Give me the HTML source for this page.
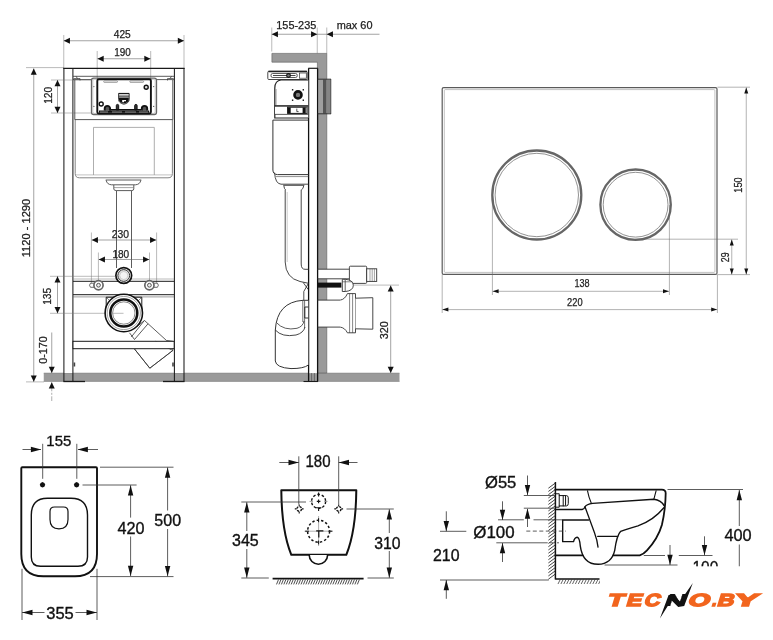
<!DOCTYPE html>
<html lang="en">
<head>
<meta charset="utf-8">
<title>Installation frame and wall-hung toilet – dimension drawing</title>
<style>
html,body{margin:0;padding:0;background:#fff;}
body{width:773px;height:640px;overflow:hidden;}
svg{display:block;}
svg text{font-family:"Liberation Sans",sans-serif;}
#all{opacity:0.999;}
</style>
</head>
<body>
<svg width="773" height="640" viewBox="0 0 773 640">
<defs><clipPath id="crop"><rect x="400" y="440" width="373" height="126.2"/><rect x="400" y="566" width="200" height="74"/></clipPath></defs>
<rect x="0" y="0" width="773" height="640" fill="#fff"/>
<g id="all">
<g id="frame-front">
<rect x="43.75" y="373" width="355.75" height="8.6" fill="#9a9a9a" stroke="none" stroke-width="1" rx="0" />
<line x1="43.75" y1="373.1" x2="399.5" y2="373.1" stroke="#858585" stroke-width="0.6" />
<line x1="43.75" y1="381.4" x2="399.5" y2="381.4" stroke="#858585" stroke-width="0.6" />
<line x1="63.75" y1="35" x2="63.75" y2="68" stroke="#777" stroke-width="0.5" />
<line x1="184" y1="35" x2="184" y2="68" stroke="#777" stroke-width="0.5" />
<line x1="63.75" y1="40.75" x2="184" y2="40.75" stroke="#666" stroke-width="0.6" />
<polygon points="63.75,40.75 69.95,37.65 69.95,43.85" fill="#111"/>
<polygon points="184.00,40.75 177.80,37.65 177.80,43.85" fill="#111"/>
<text x="122.25" y="38.3" font-size="10.5" text-anchor="middle" fill="#222" font-weight="normal" textLength="17" lengthAdjust="spacingAndGlyphs" stroke="#222" stroke-width="0.25" >425</text>
<line x1="97.2" y1="51" x2="97.2" y2="80" stroke="#777" stroke-width="0.5" />
<line x1="150.7" y1="51" x2="150.7" y2="80" stroke="#777" stroke-width="0.5" />
<line x1="97.5" y1="58.75" x2="150.5" y2="58.75" stroke="#666" stroke-width="0.6" />
<polygon points="97.50,58.75 103.70,55.65 103.70,61.85" fill="#111"/>
<polygon points="150.50,58.75 144.30,55.65 144.30,61.85" fill="#111"/>
<text x="122.5" y="56.4" font-size="10.5" text-anchor="middle" fill="#222" font-weight="normal" textLength="16.6" lengthAdjust="spacingAndGlyphs" stroke="#222" stroke-width="0.25" >190</text>
<line x1="26" y1="67.6" x2="64" y2="67.6" stroke="#777" stroke-width="0.5" />
<line x1="26" y1="381.9" x2="44" y2="381.9" stroke="#777" stroke-width="0.5" />
<line x1="33.75" y1="68.5" x2="33.75" y2="381.75" stroke="#666" stroke-width="0.6" />
<polygon points="33.75,68.50 30.75,74.70 36.75,74.70" fill="#111"/>
<polygon points="33.75,381.75 30.75,375.55 36.75,375.55" fill="#111"/>
<text x="29.6" y="228" font-size="10.5" text-anchor="middle" fill="#222" font-weight="normal" textLength="58.5" lengthAdjust="spacingAndGlyphs" stroke="#222" stroke-width="0.25" transform="rotate(-90 29.6 228)" >1120 - 1290</text>
<rect x="63.9" y="68" width="9.1" height="305" fill="#fff" stroke="none" stroke-width="1" rx="0" />
<rect x="174.2" y="68" width="9.7" height="305" fill="#fff" stroke="none" stroke-width="1" rx="0" />
<line x1="63.9" y1="68" x2="63.9" y2="381.6" stroke="#1a1a1a" stroke-width="1.05" />
<line x1="72.9" y1="68" x2="72.9" y2="381.6" stroke="#1a1a1a" stroke-width="1.05" />
<line x1="174.4" y1="68" x2="174.4" y2="381.6" stroke="#1a1a1a" stroke-width="1.05" />
<line x1="184.0" y1="68" x2="184.0" y2="381.6" stroke="#1a1a1a" stroke-width="1.05" />
<line x1="63.3" y1="68.4" x2="184.6" y2="68.4" stroke="#1a1a1a" stroke-width="1.4" />
<line x1="63.4" y1="381.5" x2="85" y2="381.5" stroke="#1a1a1a" stroke-width="1.3" />
<line x1="163" y1="381.5" x2="184.5" y2="381.5" stroke="#1a1a1a" stroke-width="1.3" />
<line x1="51" y1="80" x2="92" y2="80" stroke="#777" stroke-width="0.5" />
<line x1="51" y1="113" x2="92" y2="113" stroke="#777" stroke-width="0.5" />
<line x1="57.5" y1="80" x2="57.5" y2="113" stroke="#666" stroke-width="0.6" />
<polygon points="57.50,80.00 54.50,86.20 60.50,86.20" fill="#111"/>
<polygon points="57.50,113.00 54.50,106.80 60.50,106.80" fill="#111"/>
<text x="51.8" y="95.3" font-size="10.5" text-anchor="middle" fill="#222" font-weight="normal" textLength="17" lengthAdjust="spacingAndGlyphs" stroke="#222" stroke-width="0.25" transform="rotate(-90 51.8 95.3)" >120</text>
<path d="M73 76.3 H174.2 M73 79.6 H91 M156.5 79.6 H174.2 M76 76.3 l1.5 2.2 M171.5 76.3 l-1.5 2.2" fill="none" stroke="#333" stroke-width="0.8" />
<path d="M73.5 78.5 H80 V80.5 M173.7 78.5 H167.5 V80.5" fill="none" stroke="#333" stroke-width="0.7" />
<path d="M75.2 119.6 V173.5 Q75.2 177.8 79.5 177.8 H168 Q172.4 177.8 172.4 173.5 V119.6" fill="#fff" stroke="#777" stroke-width="0.9" />
<path d="M75.6 174.9 H172" fill="none" stroke="#999" stroke-width="0.6" />
<path d="M74.8 80 V119.6 H172.8 V80" fill="none" stroke="#444" stroke-width="0.9" />
<path d="M93.5 175 V127.4 H154.3 V175" fill="none" stroke="#999" stroke-width="0.8" />
<rect x="91.5" y="78.2" width="65" height="36.3" fill="#fff" stroke="#666" stroke-width="1.3" rx="2.2" />
<rect x="92.8" y="79.4" width="62.4" height="34" fill="none" stroke="#999" stroke-width="0.5" rx="1.5" />
<rect x="97.3" y="79.2" width="53.6" height="34.3" fill="#fff" stroke="#111" stroke-width="1.9" rx="1.5" />
<rect x="103.7" y="80.9" width="13.8" height="1.5" fill="#fff" stroke="#666" stroke-width="0.6" rx="0.7" />
<rect x="129.8" y="80.9" width="13.8" height="1.5" fill="#fff" stroke="#666" stroke-width="0.6" rx="0.7" />
<circle cx="93.9" cy="86.6" r="0.55" fill="#444" stroke="none" stroke-width="1" />
<circle cx="93.9" cy="106.4" r="0.55" fill="#444" stroke="none" stroke-width="1" />
<circle cx="153.7" cy="86.6" r="0.55" fill="#444" stroke="none" stroke-width="1" />
<circle cx="153.7" cy="106.4" r="0.55" fill="#444" stroke="none" stroke-width="1" />
<circle cx="146.2" cy="87.2" r="2.0" fill="#ddd" stroke="#111" stroke-width="1.4" />
<circle cx="101.2" cy="104" r="2.0" fill="#fff" stroke="#111" stroke-width="1.4" />
<path d="M104.7 110.6 V108.6 A2.7 2.7 0 0 1 110.10000000000001 108.6 V110.6" fill="#555" stroke="#111" stroke-width="1.9" />
<path d="M141.8 110.6 V108.6 A2.7 2.7 0 0 1 147.2 108.6 V110.6" fill="#555" stroke="#111" stroke-width="1.9" />
<path d="M116.3 110 V105.6 A1.2 1.2 0 0 1 118.7 105.6 V110 Z" fill="#333" stroke="#111" stroke-width="1.0" />
<path d="M134.70000000000002 110 V105.6 A1.2 1.2 0 0 1 137.1 105.6 V110 Z" fill="#333" stroke="#111" stroke-width="1.0" />
<line x1="99" y1="111.6" x2="149.2" y2="111.6" stroke="#111" stroke-width="2.2" />
<line x1="109.6" y1="109.8" x2="141" y2="109.8" stroke="#111" stroke-width="1.6" />
<path d="M100 112 H108 M112 112 H122 M125 112 H136 M139 112 H148" fill="none" stroke="#bbb" stroke-width="0.7" />
<path d="M118.6 93.4 H129.2 V99.5 Q129 103.2 123.9 104.2 Q118.8 103.2 118.6 99.5 Z" fill="#fff" stroke="#222" stroke-width="0.9" />
<line x1="118.8" y1="93.7" x2="129" y2="93.7" stroke="#111" stroke-width="1.0" />
<line x1="118.8" y1="96.1" x2="129" y2="96.1" stroke="#111" stroke-width="1.0" />
<path d="M119 97.4 H128.8 V100 Q128.3 102.6 123.9 103.4 Q119.5 102.6 119 100 Z" fill="#111" stroke="none" stroke-width="1" />
<path d="M122.2 100 H126 V101.3 H124 V102.2 H122.2 Z" fill="#fff" stroke="none" stroke-width="1" />
<path d="M105.7 180 H141.3 M106.2 180.2 Q106.8 184.4 111.5 184.8 H135.5 Q140.2 184.4 140.8 180.2" fill="none" stroke="#4a4a4a" stroke-width="0.9" />
<path d="M113.8 185 V189 Q113.8 190.6 116.5 190.6 H131.5 Q133.8 190.6 133.8 189 V185" fill="none" stroke="#4a4a4a" stroke-width="0.9" />
<line x1="116.5" y1="190.6" x2="116.5" y2="268" stroke="#4a4a4a" stroke-width="0.9" />
<line x1="131.5" y1="190.6" x2="131.5" y2="268" stroke="#4a4a4a" stroke-width="0.9" />
<line x1="114" y1="187.6" x2="133.6" y2="187.6" stroke="#666" stroke-width="0.6" />
<line x1="91.4" y1="232.5" x2="91.4" y2="285" stroke="#777" stroke-width="0.5" />
<line x1="156.6" y1="232.5" x2="156.6" y2="285" stroke="#777" stroke-width="0.5" />
<line x1="91.75" y1="240" x2="156.25" y2="240" stroke="#666" stroke-width="0.6" />
<polygon points="91.75,240.00 97.95,236.90 97.95,243.10" fill="#111"/>
<polygon points="156.25,240.00 150.05,236.90 150.05,243.10" fill="#111"/>
<text x="120.5" y="237.6" font-size="10.5" text-anchor="middle" fill="#222" font-weight="normal" textLength="17.3" lengthAdjust="spacingAndGlyphs" stroke="#222" stroke-width="0.25" >230</text>
<line x1="98.4" y1="252.5" x2="98.4" y2="282" stroke="#777" stroke-width="0.5" />
<line x1="149.5" y1="252.5" x2="149.5" y2="282" stroke="#777" stroke-width="0.5" />
<line x1="98.75" y1="259.5" x2="149.25" y2="259.5" stroke="#666" stroke-width="0.6" />
<polygon points="98.75,259.50 104.95,256.40 104.95,262.60" fill="#111"/>
<polygon points="149.25,259.50 143.05,256.40 143.05,262.60" fill="#111"/>
<text x="120.8" y="257.5" font-size="10.5" text-anchor="middle" fill="#222" font-weight="normal" textLength="16.8" lengthAdjust="spacingAndGlyphs" stroke="#222" stroke-width="0.25" >180</text>
<line x1="73" y1="279" x2="174.2" y2="279" stroke="#777" stroke-width="0.5" />
<line x1="73" y1="281.3" x2="174.2" y2="281.3" stroke="#1a1a1a" stroke-width="1.0" />
<line x1="73" y1="294.7" x2="174.2" y2="294.7" stroke="#1a1a1a" stroke-width="1.0" />
<line x1="73" y1="296.9" x2="174.2" y2="296.9" stroke="#555" stroke-width="0.6" />
<circle cx="123.75" cy="275.5" r="7.9" fill="#fff" stroke="#111" stroke-width="1.7" />
<circle cx="123.75" cy="275.5" r="5.9" fill="#e4e4e4" stroke="#333" stroke-width="1.0" />
<circle cx="123.75" cy="275.5" r="4.0" fill="#f4f4f4" stroke="#aaa" stroke-width="0.5" />
<path d="M94.5 283.2 H90.5 Q88.5 285.2 90.5 287.3 H94.5" fill="#fff" stroke="#444" stroke-width="0.8" />
<circle cx="98.5" cy="285.25" r="4.6" fill="#fff" stroke="#666" stroke-width="1.7" />
<circle cx="98.5" cy="285.25" r="1.9" fill="#eee" stroke="#444" stroke-width="0.9" />
<path d="M153.4 283.2 H157.4 Q159.4 285.2 157.4 287.3 H153.4" fill="#fff" stroke="#444" stroke-width="0.8" />
<circle cx="149.4" cy="285.25" r="4.6" fill="#fff" stroke="#666" stroke-width="1.7" />
<circle cx="149.4" cy="285.25" r="1.9" fill="#eee" stroke="#444" stroke-width="0.9" />
<line x1="50" y1="276.3" x2="115.5" y2="276.3" stroke="#777" stroke-width="0.5" />
<line x1="50" y1="313.3" x2="123.5" y2="313.3" stroke="#777" stroke-width="0.5" />
<line x1="57.5" y1="276.3" x2="57.5" y2="313.3" stroke="#666" stroke-width="0.6" />
<polygon points="57.50,276.30 54.50,282.50 60.50,282.50" fill="#111"/>
<polygon points="57.50,313.30 54.50,307.10 60.50,307.10" fill="#111"/>
<text x="51.3" y="296.3" font-size="10.5" text-anchor="middle" fill="#222" font-weight="normal" textLength="17" lengthAdjust="spacingAndGlyphs" stroke="#222" stroke-width="0.25" transform="rotate(-90 51.3 296.3)" >135</text>
<path d="M106.2 313 V297.2 H141.8 V313" fill="none" stroke="#1a1a1a" stroke-width="1.0" />
<path d="M106.2 297.2 l4 4 M141.8 297.2 l-4 4" fill="none" stroke="#333" stroke-width="0.6" />
<path d="M137 326.5 L144.5 320.5 L166.5 340.5 L172.8 341.3 V350.5 L149.8 368.2 L134.5 349 M129.5 332.8 L134.5 339.5 L148 323.8 M144.3 320.6 L131.3 337 M172.8 350.5 L155.5 341.3" fill="none" stroke="#333" stroke-width="0.8" />
<circle cx="123.8" cy="313.0" r="18.7" fill="#fff" stroke="#111" stroke-width="1.6" />
<circle cx="123.8" cy="313.0" r="16.6" fill="none" stroke="#666" stroke-width="0.6" />
<circle cx="123.8" cy="313.0" r="13.5" fill="#fff" stroke="#111" stroke-width="2.5" />
<circle cx="123.8" cy="313.0" r="11.2" fill="none" stroke="#555" stroke-width="0.7" />
<line x1="113" y1="313.3" x2="123.5" y2="313.3" stroke="#777" stroke-width="0.5" />
<rect x="73" y="341.3" width="101.2" height="7.4" fill="#fff" stroke="#1a1a1a" stroke-width="1.0" rx="0" />
<path d="M134.5 349 L149.8 368.2 L172.8 350.5" fill="none" stroke="#333" stroke-width="0.8" />
<rect x="73.6" y="362.5" width="1.6" height="4" fill="#444" stroke="none" stroke-width="1" rx="0" />
<rect x="172.2" y="362.5" width="1.6" height="4" fill="#444" stroke="none" stroke-width="1" rx="0" />
<line x1="51.75" y1="332.5" x2="51.75" y2="373" stroke="#666" stroke-width="0.6" />
<polygon points="51.75,373.00 48.75,366.80 54.75,366.80" fill="#111"/>
<line x1="51.75" y1="382.3" x2="51.75" y2="401" stroke="#777" stroke-width="0.6" stroke-dasharray="9 1.5 2 1.5"/>
<polygon points="51.75,382.30 48.75,388.50 54.75,388.50" fill="#111"/>
<text x="47.4" y="350" font-size="10.5" text-anchor="middle" fill="#222" font-weight="normal" textLength="27.5" lengthAdjust="spacingAndGlyphs" stroke="#222" stroke-width="0.25" transform="rotate(-90 47.4 350)" >0-170</text>
</g>
<g id="frame-side">
<line x1="271.75" y1="27.5" x2="271.75" y2="51.5" stroke="#777" stroke-width="0.5" />
<line x1="317.25" y1="27.5" x2="317.25" y2="53.5" stroke="#777" stroke-width="0.5" />
<line x1="326.75" y1="27.5" x2="326.75" y2="53.5" stroke="#777" stroke-width="0.5" />
<line x1="271.75" y1="34.25" x2="326.75" y2="34.25" stroke="#666" stroke-width="0.6" />
<line x1="326.75" y1="34.25" x2="379.5" y2="34.25" stroke="#666" stroke-width="0.6" />
<polygon points="271.75,34.25 277.95,31.15 277.95,37.35" fill="#111"/>
<polygon points="317.25,34.25 311.05,31.15 311.05,37.35" fill="#111"/>
<polygon points="326.75,34.25 332.95,31.15 332.95,37.35" fill="#111"/>
<text x="296.3" y="28.9" font-size="10.5" text-anchor="middle" fill="#222" font-weight="normal" textLength="40" lengthAdjust="spacingAndGlyphs" stroke="#222" stroke-width="0.25" >155-235</text>
<text x="354.6" y="28.9" font-size="10.5" text-anchor="middle" fill="#222" font-weight="normal" textLength="35.8" lengthAdjust="spacingAndGlyphs" stroke="#222" stroke-width="0.25" >max 60</text>
<path d="M271.9 53.4 H326.8 V373 H317.4 V62.2 H271.9 Z" fill="#9a9a9a" stroke="#5a5a5a" stroke-width="0.6" />
<rect x="317.4" y="269.2" width="32" height="9.6" fill="#fff" stroke="none" stroke-width="1" rx="0" />
<rect x="317.4" y="300.1" width="23.2" height="27" fill="#fff" stroke="none" stroke-width="1" rx="0" />
<rect x="308.7" y="68.2" width="8.7" height="305" fill="#fff" stroke="none" stroke-width="1" rx="0" />
<line x1="308.6" y1="68.2" x2="308.6" y2="381.6" stroke="#111" stroke-width="1.3" />
<line x1="317.6" y1="68.2" x2="317.6" y2="381.6" stroke="#111" stroke-width="1.3" />
<line x1="308.3" y1="68.3" x2="317.9" y2="68.3" stroke="#1a1a1a" stroke-width="1.2" />
<line x1="311.6" y1="373" x2="311.6" y2="381.6" stroke="#444" stroke-width="0.6" />
<line x1="314.4" y1="373" x2="314.4" y2="381.6" stroke="#444" stroke-width="0.6" />
<line x1="303.5" y1="381.5" x2="318" y2="381.5" stroke="#1a1a1a" stroke-width="1.1" />
<rect x="318.4" y="79.5" width="4.6" height="34" fill="#9f9f9f" stroke="none" stroke-width="1" rx="0" />
<rect x="323" y="79.5" width="3.4" height="34" fill="#555" stroke="none" stroke-width="1" rx="0" />
<rect x="326.4" y="79.5" width="4.4" height="34" fill="#858585" stroke="none" stroke-width="1" rx="0" />
<line x1="330.8" y1="79" x2="330.8" y2="114" stroke="#333" stroke-width="0.8" />
<line x1="317.6" y1="79.2" x2="331" y2="79.2" stroke="#333" stroke-width="1.0" />
<line x1="317.6" y1="113.8" x2="331" y2="113.8" stroke="#333" stroke-width="1.0" />
<rect x="267.8" y="71.3" width="39.4" height="8.2" fill="#fff" stroke="#333" stroke-width="0.9" rx="1" />
<line x1="268.5" y1="71.5" x2="307" y2="71.5" stroke="#222" stroke-width="1.4" />
<rect x="271" y="73.5" width="26.2" height="4" fill="#fff" stroke="#333" stroke-width="0.8" rx="1.6" />
<line x1="273" y1="75.5" x2="295.5" y2="75.5" stroke="#333" stroke-width="0.9" />
<circle cx="288.5" cy="75.5" r="1.9" fill="#777" stroke="#111" stroke-width="1.1" />
<rect x="299.5" y="73" width="6.8" height="5.2" fill="#fff" stroke="#333" stroke-width="0.7" rx="0" />
<path d="M308.3 80 H281 Q275 80.5 274.8 88 V118 H308.3" fill="#fff" stroke="#222" stroke-width="1.2" />
<line x1="276.2" y1="89" x2="276.2" y2="105" stroke="#666" stroke-width="0.5" />
<rect x="291.90000000000003" y="89.1" width="1.4" height="1.4" fill="#111" stroke="none" stroke-width="1" rx="0" />
<rect x="302.6" y="89.1" width="1.4" height="1.4" fill="#111" stroke="none" stroke-width="1" rx="0" />
<rect x="291.90000000000003" y="99.5" width="1.4" height="1.4" fill="#111" stroke="none" stroke-width="1" rx="0" />
<rect x="302.6" y="99.5" width="1.4" height="1.4" fill="#111" stroke="none" stroke-width="1" rx="0" />
<circle cx="298.0" cy="94.9" r="3.5" fill="#777" stroke="#111" stroke-width="2.6" />
<line x1="274.5" y1="105.6" x2="308.3" y2="105.6" stroke="#222" stroke-width="0.9" />
<rect x="274.6" y="106.3" width="33.5" height="8" fill="#fff" stroke="#333" stroke-width="0.8" rx="0" />
<rect x="287.6" y="107.2" width="19.4" height="6.2" fill="#fff" stroke="#111" stroke-width="1.0" rx="0" />
<rect x="287.9" y="107.5" width="2.8" height="5.6" fill="#111" stroke="none" stroke-width="1" rx="0" />
<rect x="302.6" y="107.5" width="3.2" height="5.6" fill="#111" stroke="none" stroke-width="1" rx="0" />
<rect x="305.8" y="107.5" width="1.6" height="5.6" fill="#888" stroke="none" stroke-width="1" rx="0" />
<path d="M296.8 108.6 V111.6 H298.6" fill="none" stroke="#111" stroke-width="0.7" />
<path d="M272.9 120.1 H308.6 M272.9 120.1 V170 Q273 174.4 277.5 174.6 H308.6" fill="none" stroke="#333" stroke-width="1.0" />
<path d="M274.6 172.6 Q275.2 183.8 281 184.2 H308.6" fill="none" stroke="#333" stroke-width="0.9" />
<line x1="276" y1="176.6" x2="308.6" y2="176.6" stroke="#444" stroke-width="0.6" />
<path d="M283.4 185.3 H304.2 M283.8 185.5 Q284.2 189.2 285.6 189.8 M303.8 185.5 Q303.2 189.2 301.4 189.8" fill="none" stroke="#333" stroke-width="0.9" />
<path d="M285.2 189.8 V262 Q285.6 278 300 281.5 L308.6 283.3" fill="none" stroke="#333" stroke-width="0.9" />
<path d="M301.2 189.8 V264 Q301.2 269.3 305 269.3 H308.6" fill="none" stroke="#333" stroke-width="0.9" />
<line x1="287.2" y1="192" x2="287.2" y2="262" stroke="#999" stroke-width="0.5" />
<path d="M303.2 282.5 l5 7 M308.3 283.5 l-4.5 8 V305" fill="none" stroke="#222" stroke-width="0.8" />
<path d="M317.4 269.2 H349.4 M317.4 278.8 H349.4" fill="none" stroke="#333" stroke-width="0.9" />
<rect x="349.4" y="266.2" width="17.3" height="17.2" fill="#fff" stroke="#333" stroke-width="0.9" rx="1" />
<rect x="366.7" y="268.8" width="10" height="12.6" fill="#fff" stroke="#333" stroke-width="0.9" rx="0" />
<line x1="370" y1="268.8" x2="370" y2="281.4" stroke="#444" stroke-width="0.5" />
<line x1="372.2" y1="268.8" x2="372.2" y2="281.4" stroke="#444" stroke-width="0.5" />
<line x1="374.4" y1="268.8" x2="374.4" y2="281.4" stroke="#444" stroke-width="0.5" />
<rect x="317.6" y="282.6" width="23.8" height="5.0" fill="#111" stroke="none" stroke-width="1" rx="0" />
<path d="M342.3 279.3 H345.5 Q353 280 353.4 285.3 Q353 290.8 345.5 291.5 H342.3 Z" fill="#fff" stroke="#333" stroke-width="0.9" />
<line x1="345.2" y1="279.3" x2="345.2" y2="291.5" stroke="#222" stroke-width="0.7" />
<line x1="342.3" y1="281.8" x2="352.4" y2="281.8" stroke="#333" stroke-width="0.6" />
<path d="M317.4 300.1 H340.3 M317.4 327.1 H340.3" fill="none" stroke="#333" stroke-width="0.9" />
<path d="M340.3 300.1 Q345 299.3 347.4 293.6 H355.5 V332.8 H347.4 Q345 327.9 340.3 327.1" fill="#fff" stroke="#333" stroke-width="0.9" />
<line x1="349.6" y1="293.6" x2="349.6" y2="332.8" stroke="#333" stroke-width="0.6" />
<line x1="352.6" y1="293.6" x2="352.6" y2="332.8" stroke="#333" stroke-width="0.6" />
<path d="M355.5 298.2 L372.8 297.7 V329.2 L355.5 328.8" fill="#fff" stroke="#333" stroke-width="0.9" />
<path d="M308.3 300.3 H303 Q277 302 275.3 330 V361 Q276 367.6 291 368.6 Q304 368.6 308.3 365" fill="#fff" stroke="#333" stroke-width="1.0" />
<path d="M275.3 330 Q282 337.5 296 335 Q303.5 333 305 327" fill="none" stroke="#333" stroke-width="0.9" />
<path d="M276.3 322.5 Q284 331 297 328.3 Q303 326.5 304 321" fill="none" stroke="#333" stroke-width="0.8" />
<path d="M302.8 300.5 V322 M304.6 300.5 V328" fill="none" stroke="#333" stroke-width="0.7" />
<path d="M304.8 307 H308.3 M304.8 318 H308.3 M304.8 307 V318" fill="none" stroke="#222" stroke-width="0.9" />
<line x1="352.5" y1="285.1" x2="399" y2="285.1" stroke="#777" stroke-width="0.5" />
<line x1="390.7" y1="285.4" x2="390.7" y2="373" stroke="#666" stroke-width="0.6" />
<polygon points="390.70,285.40 387.70,291.60 393.70,291.60" fill="#111"/>
<polygon points="390.70,373.00 387.70,366.80 393.70,366.80" fill="#111"/>
<text x="387.6" y="330.2" font-size="10.5" text-anchor="middle" fill="#222" font-weight="normal" textLength="18" lengthAdjust="spacingAndGlyphs" stroke="#222" stroke-width="0.25" transform="rotate(-90 387.6 330.2)" >320</text>
</g>
<g id="plate">
<rect x="442.2" y="87.6" width="274.8" height="186.8" fill="none" stroke="#5a5a5a" stroke-width="1.2" rx="1.5" />
<rect x="444.3" y="89.6" width="270.6" height="182.8" fill="none" stroke="#999" stroke-width="0.6" rx="1" />
<circle cx="536.8" cy="195" r="44.5" fill="none" stroke="#666" stroke-width="2.3" />
<circle cx="536.8" cy="195" r="41.7" fill="none" stroke="#777" stroke-width="0.8" />
<circle cx="635.6" cy="204.7" r="35.199999999999996" fill="none" stroke="#666" stroke-width="2.3" />
<circle cx="635.6" cy="204.7" r="32.4" fill="none" stroke="#777" stroke-width="0.8" />
<line x1="492.4" y1="195" x2="492.4" y2="295" stroke="#666" stroke-width="0.5" />
<line x1="669.4" y1="205" x2="669.4" y2="295" stroke="#666" stroke-width="0.5" />
<line x1="492.6" y1="291.3" x2="669" y2="291.3" stroke="#666" stroke-width="0.5" />
<polygon points="492.60,291.30 498.60,289.30 498.60,293.30" fill="#111"/>
<polygon points="669.00,291.30 663.00,289.30 663.00,293.30" fill="#111"/>
<text x="582" y="287.4" font-size="10.3" text-anchor="middle" fill="#222" font-weight="normal" textLength="15.1" lengthAdjust="spacingAndGlyphs" stroke="#222" stroke-width="0.25" >138</text>
<line x1="442.2" y1="274.5" x2="442.2" y2="313" stroke="#666" stroke-width="0.5" />
<line x1="717.4" y1="274.5" x2="717.4" y2="313" stroke="#666" stroke-width="0.5" />
<line x1="442.4" y1="309.6" x2="717.2" y2="309.6" stroke="#666" stroke-width="0.5" />
<polygon points="442.40,309.60 448.40,307.60 448.40,311.60" fill="#111"/>
<polygon points="717.20,309.60 711.20,307.60 711.20,311.60" fill="#111"/>
<text x="574.8" y="306.4" font-size="10.3" text-anchor="middle" fill="#222" font-weight="normal" textLength="15.5" lengthAdjust="spacingAndGlyphs" stroke="#222" stroke-width="0.25" >220</text>
<line x1="717.5" y1="87.2" x2="750" y2="87.2" stroke="#666" stroke-width="0.5" />
<line x1="717.5" y1="274.6" x2="750" y2="274.6" stroke="#666" stroke-width="0.5" />
<line x1="746.25" y1="87.6" x2="746.25" y2="274.4" stroke="#666" stroke-width="0.5" />
<polygon points="746.25,87.60 744.25,93.60 748.25,93.60" fill="#111"/>
<polygon points="746.25,274.40 744.25,268.40 748.25,268.40" fill="#111"/>
<text x="742.4" y="185" font-size="10.3" text-anchor="middle" fill="#222" font-weight="normal" textLength="15.3" lengthAdjust="spacingAndGlyphs" stroke="#222" stroke-width="0.25" transform="rotate(-90 742.4 185)" >150</text>
<line x1="635" y1="239.2" x2="738" y2="239.2" stroke="#666" stroke-width="0.5" />
<line x1="731.75" y1="239.6" x2="731.75" y2="274.4" stroke="#666" stroke-width="0.5" />
<polygon points="731.75,239.60 729.75,245.60 733.75,245.60" fill="#111"/>
<polygon points="731.75,274.40 729.75,268.40 733.75,268.40" fill="#111"/>
<text x="728.8" y="257.3" font-size="10.3" text-anchor="middle" fill="#222" font-weight="normal" textLength="9.8" lengthAdjust="spacingAndGlyphs" stroke="#222" stroke-width="0.25" transform="rotate(-90 728.8 257.3)" >29</text>
</g>
<g id="wc-top">
<path d="M22.3 467.3 H96 Q97 467.3 97 468.3 V554 Q97 576.3 75 576.3 H43.3 Q21.3 576.3 21.3 554 V468.3 Q21.3 467.3 22.3 467.3 Z" fill="#fff" stroke="#111" stroke-width="1.9" />
<path d="M47.5 498.2 H71 Q87.5 498.2 87.5 515 V557 Q87.5 566.3 78 566.3 H40.5 Q31.3 566.3 31.3 557 V515 Q31.3 498.2 47.5 498.2 Z" fill="#fff" stroke="#111" stroke-width="1.4" />
<path d="M54.5 507 H63.5 Q68 507 68 511.5 V519.5 Q68 528.8 59 528.8 Q50 528.8 50 519.5 V511.5 Q50 507 54.5 507 Z" fill="#fff" stroke="#111" stroke-width="1.2" />
<polygon points="42.5,482.1 44.4,482.9 45.2,484.8 44.4,486.7 42.5,487.5 40.6,486.7 39.8,484.8 40.6,482.9" fill="#111"/>
<line x1="42.7" y1="443.8" x2="42.7" y2="478.8" stroke="#333" stroke-width="0.8" />
<polygon points="76.6,482.1 78.5,482.9 79.3,484.8 78.5,486.7 76.6,487.5 74.69999999999999,486.7 73.89999999999999,484.8 74.69999999999999,482.9" fill="#111"/>
<line x1="76.8" y1="443.8" x2="76.8" y2="478.8" stroke="#333" stroke-width="0.8" />
<line x1="22.5" y1="449.5" x2="41" y2="449.5" stroke="#333" stroke-width="0.8" />
<polygon points="41.20,449.50 30.90,446.80 30.90,452.20" fill="#111"/>
<line x1="78" y1="449.5" x2="98" y2="449.5" stroke="#333" stroke-width="0.8" />
<polygon points="77.60,449.50 87.90,446.80 87.90,452.20" fill="#111"/>
<text x="58.8" y="446.2" font-size="15.5" text-anchor="middle" fill="#111" font-weight="normal" textLength="25" lengthAdjust="spacingAndGlyphs" stroke="#111" stroke-width="0.35" >155</text>
<line x1="82.5" y1="485" x2="136.6" y2="485" stroke="#333" stroke-width="0.8" />
<line x1="130.6" y1="485.3" x2="130.6" y2="517.6" stroke="#333" stroke-width="0.8" />
<line x1="130.6" y1="536.5" x2="130.6" y2="576" stroke="#333" stroke-width="0.8" />
<polygon points="130.60,485.30 127.90,495.60 133.30,495.60" fill="#111"/>
<polygon points="130.60,576.00 127.90,565.70 133.30,565.70" fill="#111"/>
<text x="131" y="533.5" font-size="16" text-anchor="middle" fill="#111" font-weight="normal" textLength="27" lengthAdjust="spacingAndGlyphs" stroke="#111" stroke-width="0.35" >420</text>
<line x1="100" y1="467.2" x2="173.5" y2="467.2" stroke="#333" stroke-width="0.8" />
<line x1="90" y1="576.6" x2="173.5" y2="576.6" stroke="#333" stroke-width="0.8" />
<line x1="167.6" y1="467.5" x2="167.6" y2="510.5" stroke="#333" stroke-width="0.8" />
<line x1="167.6" y1="529" x2="167.6" y2="576.3" stroke="#333" stroke-width="0.8" />
<polygon points="167.60,467.50 164.90,477.80 170.30,477.80" fill="#111"/>
<polygon points="167.60,576.30 164.90,566.00 170.30,566.00" fill="#111"/>
<text x="167.7" y="526.1" font-size="16" text-anchor="middle" fill="#111" font-weight="normal" textLength="26.7" lengthAdjust="spacingAndGlyphs" stroke="#111" stroke-width="0.35" >500</text>
<line x1="22" y1="568.8" x2="22" y2="620" stroke="#333" stroke-width="0.8" />
<line x1="97" y1="568.8" x2="97" y2="620" stroke="#333" stroke-width="0.8" />
<line x1="22" y1="612.5" x2="44.5" y2="612.5" stroke="#333" stroke-width="0.8" />
<line x1="75.5" y1="612.5" x2="97" y2="612.5" stroke="#333" stroke-width="0.8" />
<polygon points="22.20,612.50 32.50,609.80 32.50,615.20" fill="#111"/>
<polygon points="96.80,612.50 86.50,609.80 86.50,615.20" fill="#111"/>
<text x="60" y="618.6" font-size="16" text-anchor="middle" fill="#111" font-weight="normal" textLength="27.5" lengthAdjust="spacingAndGlyphs" stroke="#111" stroke-width="0.35" >355</text>
</g>
<g id="wc-front">
<path d="M281.3 490.3 H356.3 C356 520 352 541 346.3 554.8 H291.3 C285.6 541 281.6 520 281.3 490.3 Z" fill="#fff" stroke="#111" stroke-width="2.0" stroke-linejoin="round"/>
<path d="M309.2 555 A9.2 9.2 0 0 0 327.6 555" fill="#fff" stroke="#111" stroke-width="1.6" />
<line x1="298.8" y1="456.3" x2="298.8" y2="504.5" stroke="#333" stroke-width="0.8" />
<line x1="338.7" y1="456.3" x2="338.7" y2="504.5" stroke="#333" stroke-width="0.8" />
<line x1="279.3" y1="462.5" x2="298.8" y2="462.5" stroke="#333" stroke-width="0.8" />
<polygon points="298.80,462.50 288.50,459.80 288.50,465.20" fill="#111"/>
<line x1="338.7" y1="462.5" x2="357.5" y2="462.5" stroke="#333" stroke-width="0.8" />
<polygon points="338.70,462.50 349.00,459.80 349.00,465.20" fill="#111"/>
<text x="318" y="467" font-size="16" text-anchor="middle" fill="#111" font-weight="normal" textLength="25" lengthAdjust="spacingAndGlyphs" stroke="#111" stroke-width="0.35" >180</text>
<circle cx="318.6" cy="501.4" r="7.0" fill="none" stroke="#111" stroke-width="1.4" stroke-dasharray="2.6 1.9"/>
<path d="M318.6 492.6 V496.4 M316 507.8 H321.4 M318.6 507.8 V511 M316.8 501.4 H320.4 M318.6 499.6 V503.2" fill="none" stroke="#111" stroke-width="1.1" />
<path d="M309.5 501.4 H313 M324.2 501.4 H327.5" fill="none" stroke="#777" stroke-width="0.7" />
<circle cx="318.6" cy="531.2" r="11.0" fill="none" stroke="#111" stroke-width="1.5" stroke-dasharray="2.4 2.1"/>
<path d="M318.6 516 V546 M304.5 531.2 H333" fill="none" stroke="#777" stroke-width="0.6" />
<path d="M318.6 518.2 V522.2 M318.6 540.6 V544.4 M305.2 531.2 H309 M328.4 531.2 H332.2" fill="none" stroke="#111" stroke-width="1.0" />
<path d="M316.2 530.8 H323.4 M318.8 530.8 V537.6" fill="none" stroke="#111" stroke-width="1.2" />
<circle cx="299.2" cy="508.9" r="2.3" fill="none" stroke="#111" stroke-width="1.4" stroke-dasharray="2 1.4"/>
<path d="M294.8 508.9 H296.59999999999997 M301.8 508.9 H303.59999999999997 M299.2 511.4 V513.6 M299.2 504.4 V506.4" fill="none" stroke="#111" stroke-width="1.1" />
<circle cx="338.7" cy="508.9" r="2.3" fill="none" stroke="#111" stroke-width="1.4" stroke-dasharray="2 1.4"/>
<path d="M334.3 508.9 H336.09999999999997 M341.3 508.9 H343.09999999999997 M338.7 511.4 V513.6 M338.7 504.4 V506.4" fill="none" stroke="#111" stroke-width="1.1" />
<line x1="241.3" y1="502" x2="306" y2="502" stroke="#333" stroke-width="0.8" />
<line x1="241.3" y1="578" x2="268.8" y2="578" stroke="#333" stroke-width="0.8" />
<line x1="246.8" y1="502.2" x2="246.8" y2="531" stroke="#333" stroke-width="0.8" />
<line x1="246.8" y1="549" x2="246.8" y2="577.8" stroke="#333" stroke-width="0.8" />
<polygon points="246.80,502.20 244.10,512.50 249.50,512.50" fill="#111"/>
<polygon points="246.80,577.80 244.10,567.50 249.50,567.50" fill="#111"/>
<text x="245.4" y="546.3" font-size="16" text-anchor="middle" fill="#111" font-weight="normal" textLength="26.7" lengthAdjust="spacingAndGlyphs" stroke="#111" stroke-width="0.35" >345</text>
<line x1="346.5" y1="509" x2="393.8" y2="509" stroke="#333" stroke-width="0.8" />
<line x1="367.5" y1="578" x2="393.8" y2="578" stroke="#333" stroke-width="0.8" />
<line x1="389.3" y1="509.2" x2="389.3" y2="533" stroke="#333" stroke-width="0.8" />
<line x1="389.3" y1="551" x2="389.3" y2="577.8" stroke="#333" stroke-width="0.8" />
<polygon points="389.30,509.20 386.60,519.50 392.00,519.50" fill="#111"/>
<polygon points="389.30,577.80 386.60,567.50 392.00,567.50" fill="#111"/>
<text x="387.4" y="548.8" font-size="16" text-anchor="middle" fill="#111" font-weight="normal" textLength="26.3" lengthAdjust="spacingAndGlyphs" stroke="#111" stroke-width="0.35" >310</text>
<line x1="272.6" y1="578.6" x2="363.6" y2="578.6" stroke="#111" stroke-width="1.6" />
<line x1="278.5" y1="579.6" x2="276.5" y2="584.4" stroke="#222" stroke-width="0.8" />
<line x1="280.95" y1="579.6" x2="278.95" y2="584.4" stroke="#222" stroke-width="0.8" />
<line x1="283.4" y1="579.6" x2="281.4" y2="584.4" stroke="#222" stroke-width="0.8" />
<line x1="285.84999999999997" y1="579.6" x2="283.84999999999997" y2="584.4" stroke="#222" stroke-width="0.8" />
<line x1="288.29999999999995" y1="579.6" x2="286.29999999999995" y2="584.4" stroke="#222" stroke-width="0.8" />
<line x1="290.74999999999994" y1="579.6" x2="288.74999999999994" y2="584.4" stroke="#222" stroke-width="0.8" />
<line x1="293.19999999999993" y1="579.6" x2="291.19999999999993" y2="584.4" stroke="#222" stroke-width="0.8" />
<line x1="295.6499999999999" y1="579.6" x2="293.6499999999999" y2="584.4" stroke="#222" stroke-width="0.8" />
<line x1="298.0999999999999" y1="579.6" x2="296.0999999999999" y2="584.4" stroke="#222" stroke-width="0.8" />
<line x1="300.5499999999999" y1="579.6" x2="298.5499999999999" y2="584.4" stroke="#222" stroke-width="0.8" />
<line x1="302.9999999999999" y1="579.6" x2="300.9999999999999" y2="584.4" stroke="#222" stroke-width="0.8" />
<line x1="305.4499999999999" y1="579.6" x2="303.4499999999999" y2="584.4" stroke="#222" stroke-width="0.8" />
<line x1="307.89999999999986" y1="579.6" x2="305.89999999999986" y2="584.4" stroke="#222" stroke-width="0.8" />
<line x1="310.34999999999985" y1="579.6" x2="308.34999999999985" y2="584.4" stroke="#222" stroke-width="0.8" />
<line x1="312.79999999999984" y1="579.6" x2="310.79999999999984" y2="584.4" stroke="#222" stroke-width="0.8" />
<line x1="315.24999999999983" y1="579.6" x2="313.24999999999983" y2="584.4" stroke="#222" stroke-width="0.8" />
<line x1="317.6999999999998" y1="579.6" x2="315.6999999999998" y2="584.4" stroke="#222" stroke-width="0.8" />
<line x1="320.1499999999998" y1="579.6" x2="318.1499999999998" y2="584.4" stroke="#222" stroke-width="0.8" />
<line x1="322.5999999999998" y1="579.6" x2="320.5999999999998" y2="584.4" stroke="#222" stroke-width="0.8" />
<line x1="325.0499999999998" y1="579.6" x2="323.0499999999998" y2="584.4" stroke="#222" stroke-width="0.8" />
<line x1="327.4999999999998" y1="579.6" x2="325.4999999999998" y2="584.4" stroke="#222" stroke-width="0.8" />
<line x1="329.94999999999976" y1="579.6" x2="327.94999999999976" y2="584.4" stroke="#222" stroke-width="0.8" />
<line x1="332.39999999999975" y1="579.6" x2="330.39999999999975" y2="584.4" stroke="#222" stroke-width="0.8" />
<line x1="334.84999999999974" y1="579.6" x2="332.84999999999974" y2="584.4" stroke="#222" stroke-width="0.8" />
<line x1="337.2999999999997" y1="579.6" x2="335.2999999999997" y2="584.4" stroke="#222" stroke-width="0.8" />
<line x1="339.7499999999997" y1="579.6" x2="337.7499999999997" y2="584.4" stroke="#222" stroke-width="0.8" />
<line x1="342.1999999999997" y1="579.6" x2="340.1999999999997" y2="584.4" stroke="#222" stroke-width="0.8" />
<line x1="344.6499999999997" y1="579.6" x2="342.6499999999997" y2="584.4" stroke="#222" stroke-width="0.8" />
<line x1="347.0999999999997" y1="579.6" x2="345.0999999999997" y2="584.4" stroke="#222" stroke-width="0.8" />
<line x1="349.54999999999967" y1="579.6" x2="347.54999999999967" y2="584.4" stroke="#222" stroke-width="0.8" />
<line x1="351.99999999999966" y1="579.6" x2="349.99999999999966" y2="584.4" stroke="#222" stroke-width="0.8" />
<line x1="354.44999999999965" y1="579.6" x2="352.44999999999965" y2="584.4" stroke="#222" stroke-width="0.8" />
<line x1="356.89999999999964" y1="579.6" x2="354.89999999999964" y2="584.4" stroke="#222" stroke-width="0.8" />
<line x1="359.3499999999996" y1="579.6" x2="357.3499999999996" y2="584.4" stroke="#222" stroke-width="0.8" />
</g>
<g id="wc-side" clip-path="url(#crop)">
<line x1="555.4" y1="482" x2="555.4" y2="579.4" stroke="#111" stroke-width="1.5" />
<line x1="555.4" y1="483.0" x2="548.4" y2="488.2" stroke="#222" stroke-width="0.85" />
<line x1="555.4" y1="486.25" x2="548.4" y2="491.45" stroke="#222" stroke-width="0.85" />
<line x1="555.4" y1="489.5" x2="548.4" y2="494.7" stroke="#222" stroke-width="0.85" />
<line x1="555.4" y1="492.75" x2="548.4" y2="497.95" stroke="#222" stroke-width="0.85" />
<line x1="555.4" y1="496.0" x2="548.4" y2="501.2" stroke="#222" stroke-width="0.85" />
<line x1="555.4" y1="499.25" x2="548.4" y2="504.45" stroke="#222" stroke-width="0.85" />
<line x1="555.4" y1="502.5" x2="548.4" y2="507.7" stroke="#222" stroke-width="0.85" />
<line x1="555.4" y1="505.75" x2="548.4" y2="510.95" stroke="#222" stroke-width="0.85" />
<line x1="555.4" y1="509.0" x2="548.4" y2="514.2" stroke="#222" stroke-width="0.85" />
<line x1="555.4" y1="512.25" x2="548.4" y2="517.45" stroke="#222" stroke-width="0.85" />
<line x1="555.4" y1="515.5" x2="548.4" y2="520.7" stroke="#222" stroke-width="0.85" />
<line x1="555.4" y1="518.75" x2="548.4" y2="523.95" stroke="#222" stroke-width="0.85" />
<line x1="555.4" y1="522.0" x2="548.4" y2="527.2" stroke="#222" stroke-width="0.85" />
<line x1="555.4" y1="525.25" x2="548.4" y2="530.45" stroke="#222" stroke-width="0.85" />
<line x1="555.4" y1="528.5" x2="548.4" y2="533.7" stroke="#222" stroke-width="0.85" />
<line x1="555.4" y1="531.75" x2="548.4" y2="536.95" stroke="#222" stroke-width="0.85" />
<line x1="555.4" y1="535.0" x2="548.4" y2="540.2" stroke="#222" stroke-width="0.85" />
<line x1="555.4" y1="538.25" x2="548.4" y2="543.45" stroke="#222" stroke-width="0.85" />
<line x1="555.4" y1="541.5" x2="548.4" y2="546.7" stroke="#222" stroke-width="0.85" />
<line x1="555.4" y1="544.75" x2="548.4" y2="549.95" stroke="#222" stroke-width="0.85" />
<line x1="555.4" y1="548.0" x2="548.4" y2="553.2" stroke="#222" stroke-width="0.85" />
<line x1="555.4" y1="551.25" x2="548.4" y2="556.45" stroke="#222" stroke-width="0.85" />
<line x1="555.4" y1="554.5" x2="548.4" y2="559.7" stroke="#222" stroke-width="0.85" />
<line x1="555.4" y1="557.75" x2="548.4" y2="562.95" stroke="#222" stroke-width="0.85" />
<line x1="555.4" y1="561.0" x2="548.4" y2="566.2" stroke="#222" stroke-width="0.85" />
<line x1="555.4" y1="564.25" x2="548.4" y2="569.45" stroke="#222" stroke-width="0.85" />
<line x1="555.4" y1="567.5" x2="548.4" y2="572.7" stroke="#222" stroke-width="0.85" />
<line x1="555.4" y1="570.75" x2="548.4" y2="575.95" stroke="#222" stroke-width="0.85" />
<line x1="555.4" y1="574.0" x2="548.4" y2="579.2" stroke="#222" stroke-width="0.85" />
<line x1="555.4" y1="579" x2="599.5" y2="579" stroke="#111" stroke-width="1.4" />
<line x1="560.2" y1="579.6" x2="558.0" y2="584" stroke="#222" stroke-width="0.7" />
<line x1="563.1" y1="579.6" x2="560.9" y2="584" stroke="#222" stroke-width="0.7" />
<line x1="566.0" y1="579.6" x2="563.8" y2="584" stroke="#222" stroke-width="0.7" />
<line x1="568.9" y1="579.6" x2="566.6999999999999" y2="584" stroke="#222" stroke-width="0.7" />
<line x1="571.8" y1="579.6" x2="569.5999999999999" y2="584" stroke="#222" stroke-width="0.7" />
<line x1="574.6999999999999" y1="579.6" x2="572.4999999999999" y2="584" stroke="#222" stroke-width="0.7" />
<line x1="577.5999999999999" y1="579.6" x2="575.3999999999999" y2="584" stroke="#222" stroke-width="0.7" />
<line x1="580.4999999999999" y1="579.6" x2="578.2999999999998" y2="584" stroke="#222" stroke-width="0.7" />
<line x1="583.3999999999999" y1="579.6" x2="581.1999999999998" y2="584" stroke="#222" stroke-width="0.7" />
<line x1="586.2999999999998" y1="579.6" x2="584.0999999999998" y2="584" stroke="#222" stroke-width="0.7" />
<line x1="589.1999999999998" y1="579.6" x2="586.9999999999998" y2="584" stroke="#222" stroke-width="0.7" />
<line x1="592.0999999999998" y1="579.6" x2="589.8999999999997" y2="584" stroke="#222" stroke-width="0.7" />
<line x1="594.9999999999998" y1="579.6" x2="592.7999999999997" y2="584" stroke="#222" stroke-width="0.7" />
<line x1="597.8999999999997" y1="579.6" x2="595.6999999999997" y2="584" stroke="#222" stroke-width="0.7" />
<line x1="600.7999999999997" y1="579.6" x2="598.5999999999997" y2="584" stroke="#222" stroke-width="0.7" />
<path transform="translate(540 476) scale(0.18136)" d="M85 75 H672 Q693 75 693 95 Q692 185 672 270 Q650 345 590 410 Q570 432 550 438 H405 M235 438 H85" fill="none" stroke="#111" stroke-width="1.8" vector-effect="non-scaling-stroke" stroke-linejoin="round" stroke-linecap="round"/>
<path transform="translate(540 476) scale(0.18136)" d="M268 243 H125 V362 H185 Q190 340 205 338 Q218 340 222 385 Q236 487 320 487 Q395 485 412 410 Q424 325 445 305 Q470 295 540 275 Q625 245 683 175" fill="none" stroke="#111" stroke-width="1.4" vector-effect="non-scaling-stroke" stroke-linejoin="round" stroke-linecap="round"/>
<path transform="translate(540 476) scale(0.18136)" d="M248 170 Q272 235 300 312 Q316 355 320 392" fill="none" stroke="#111" stroke-width="1.3" vector-effect="non-scaling-stroke" stroke-linejoin="round" stroke-linecap="round"/>
<path transform="translate(540 476) scale(0.18136)" d="M318 333 H428" fill="none" stroke="#111" stroke-width="1.2" vector-effect="non-scaling-stroke" stroke-linejoin="round" stroke-linecap="round"/>
<path transform="translate(540 476) scale(0.18136)" d="M85 185 H232 Q244 183 248 170 Q256 156 290 151 L628 128 Q668 132 685 165" fill="none" stroke="#111" stroke-width="1.4" vector-effect="non-scaling-stroke" stroke-linejoin="round" stroke-linecap="round"/>
<path transform="translate(540 476) scale(0.18136)" d="M262 82 Q268 115 283 150 M640 82 L628 128" fill="none" stroke="#111" stroke-width="1.1" vector-effect="non-scaling-stroke" stroke-linejoin="round" stroke-linecap="round"/>
<path transform="translate(540 476) scale(0.18136)" d="M85 98 H106 V172 H85 M106 108 H146 Q156 109 156 120 V152 Q156 164 146 165 H106 M128 108 V165 M141 112 V161" fill="none" stroke="#111" stroke-width="1.0" vector-effect="non-scaling-stroke" stroke-linejoin="round" stroke-linecap="round"/>
<line x1="523.8" y1="495.5" x2="555" y2="495.5" stroke="#333" stroke-width="0.8" />
<line x1="523.8" y1="508.2" x2="555" y2="508.2" stroke="#333" stroke-width="0.8" />
<line x1="527.5" y1="475.5" x2="527.5" y2="495" stroke="#333" stroke-width="0.8" />
<polygon points="527.50,495.30 524.80,485.00 530.20,485.00" fill="#111"/>
<line x1="527.5" y1="509" x2="527.5" y2="527" stroke="#333" stroke-width="0.8" />
<polygon points="527.50,508.50 524.80,518.80 530.20,518.80" fill="#111"/>
<text x="485" y="488" font-size="16" text-anchor="start" fill="#111" font-weight="normal" textLength="31.3" lengthAdjust="spacingAndGlyphs" stroke="#111" stroke-width="0.35" >Ø55</text>
<line x1="498" y1="519.8" x2="523.8" y2="519.8" stroke="#333" stroke-width="0.8" />
<line x1="533.5" y1="519.8" x2="563" y2="519.8" stroke="#333" stroke-width="0.8" />
<line x1="496.3" y1="542.8" x2="547.7" y2="542.8" stroke="#333" stroke-width="0.8" />
<line x1="549.5" y1="542.8" x2="559" y2="542.8" stroke="#333" stroke-width="0.8" stroke-dasharray="3.5 1.5 1 1.5"/>
<line x1="502.5" y1="501.3" x2="502.5" y2="520" stroke="#333" stroke-width="0.8" />
<polygon points="502.50,520.00 499.80,509.70 505.20,509.70" fill="#111"/>
<line x1="502.5" y1="543" x2="502.5" y2="562" stroke="#333" stroke-width="0.8" />
<polygon points="502.50,543.00 499.80,553.30 505.20,553.30" fill="#111"/>
<text x="473.3" y="538" font-size="16" text-anchor="start" fill="#111" font-weight="normal" textLength="41.3" lengthAdjust="spacingAndGlyphs" stroke="#111" stroke-width="0.35" >Ø100</text>
<line x1="526.3" y1="531.1" x2="566" y2="531.1" stroke="#333" stroke-width="0.8" stroke-dasharray="4 2.5"/>
<line x1="440" y1="531.3" x2="466.3" y2="531.3" stroke="#333" stroke-width="0.8" />
<line x1="446.3" y1="511.3" x2="446.3" y2="531.3" stroke="#333" stroke-width="0.8" />
<polygon points="446.30,531.30 443.60,521.00 449.00,521.00" fill="#111"/>
<line x1="440" y1="580" x2="548.8" y2="580" stroke="#333" stroke-width="0.8" />
<line x1="446.3" y1="580" x2="446.3" y2="598.8" stroke="#333" stroke-width="0.8" />
<polygon points="446.30,580.00 443.60,590.30 449.00,590.30" fill="#111"/>
<text x="433" y="561.3" font-size="16" text-anchor="start" fill="#111" font-weight="normal" textLength="26.5" lengthAdjust="spacingAndGlyphs" stroke="#111" stroke-width="0.35" >210</text>
<line x1="604.5" y1="565" x2="677.5" y2="565" stroke="#333" stroke-width="0.8" />
<line x1="670" y1="545" x2="670" y2="565" stroke="#333" stroke-width="0.8" />
<polygon points="670.00,565.00 667.30,554.70 672.70,554.70" fill="#111"/>
<line x1="643.8" y1="555.5" x2="665" y2="555.5" stroke="#333" stroke-width="0.8" />
<line x1="678.8" y1="555.5" x2="712.5" y2="555.5" stroke="#333" stroke-width="0.8" />
<line x1="704.5" y1="536.3" x2="704.5" y2="555.3" stroke="#333" stroke-width="0.8" />
<polygon points="704.50,555.30 701.80,545.00 707.20,545.00" fill="#111"/>
<text x="692.5" y="572.6" font-size="16" text-anchor="start" fill="#111" font-weight="normal" textLength="25.8" lengthAdjust="spacingAndGlyphs" stroke="#111" stroke-width="0.35" >100</text>
<line x1="667.5" y1="489.5" x2="743" y2="489.5" stroke="#333" stroke-width="0.8" />
<line x1="739.3" y1="490" x2="739.3" y2="526" stroke="#333" stroke-width="0.8" />
<line x1="739.3" y1="544.5" x2="739.3" y2="570" stroke="#333" stroke-width="0.8" />
<polygon points="739.30,490.00 736.60,500.30 742.00,500.30" fill="#111"/>
<text x="738" y="541.3" font-size="16" text-anchor="middle" fill="#111" font-weight="normal" textLength="27.2" lengthAdjust="spacingAndGlyphs" stroke="#111" stroke-width="0.35" >400</text>
</g>
<g id="logo">
<g transform="translate(0 606.6) skewX(-17)">
<text y="-0.5" font-size="17.4" font-weight="bold" fill="#f2651e" stroke="#f2651e" stroke-width="1.5" stroke-linejoin="miter"><tspan x="606.6" textLength="16.2" lengthAdjust="spacingAndGlyphs" fill="#f2651e" stroke="#f2651e" stroke-width="1.5">T</tspan><tspan x="625.3" textLength="15.4" lengthAdjust="spacingAndGlyphs" fill="#f2651e" stroke="#f2651e" stroke-width="1.5">E</tspan><tspan x="643.2" textLength="15.8" lengthAdjust="spacingAndGlyphs" fill="#f2651e" stroke="#f2651e" stroke-width="1.5">C</tspan><tspan x="664.9" textLength="19.0" lengthAdjust="spacingAndGlyphs" fill="#111" stroke="#111" stroke-width="0.2">N</tspan><tspan x="687.2" textLength="21.6" lengthAdjust="spacingAndGlyphs" fill="#f2651e" stroke="#f2651e" stroke-width="1.5">O</tspan><tspan x="711.0" textLength="4.6" lengthAdjust="spacingAndGlyphs" fill="#f2651e" stroke="#f2651e" stroke-width="1.5">.</tspan><tspan x="716.4" textLength="16.6" lengthAdjust="spacingAndGlyphs" fill="#f2651e" stroke="#f2651e" stroke-width="1.5">B</tspan><tspan x="733.2" textLength="23.8" lengthAdjust="spacingAndGlyphs" fill="#f2651e" stroke="#f2651e" stroke-width="1.5">Y</tspan></text>
</g>
<polygon points="692.8,583 684.2,606 678.2,606.9 671.4,600.2 659.9,618.6 668.6,595 673,594.3 680,601.6" fill="#111"/>
</g>
</g>
</svg>
</body>
</html>
